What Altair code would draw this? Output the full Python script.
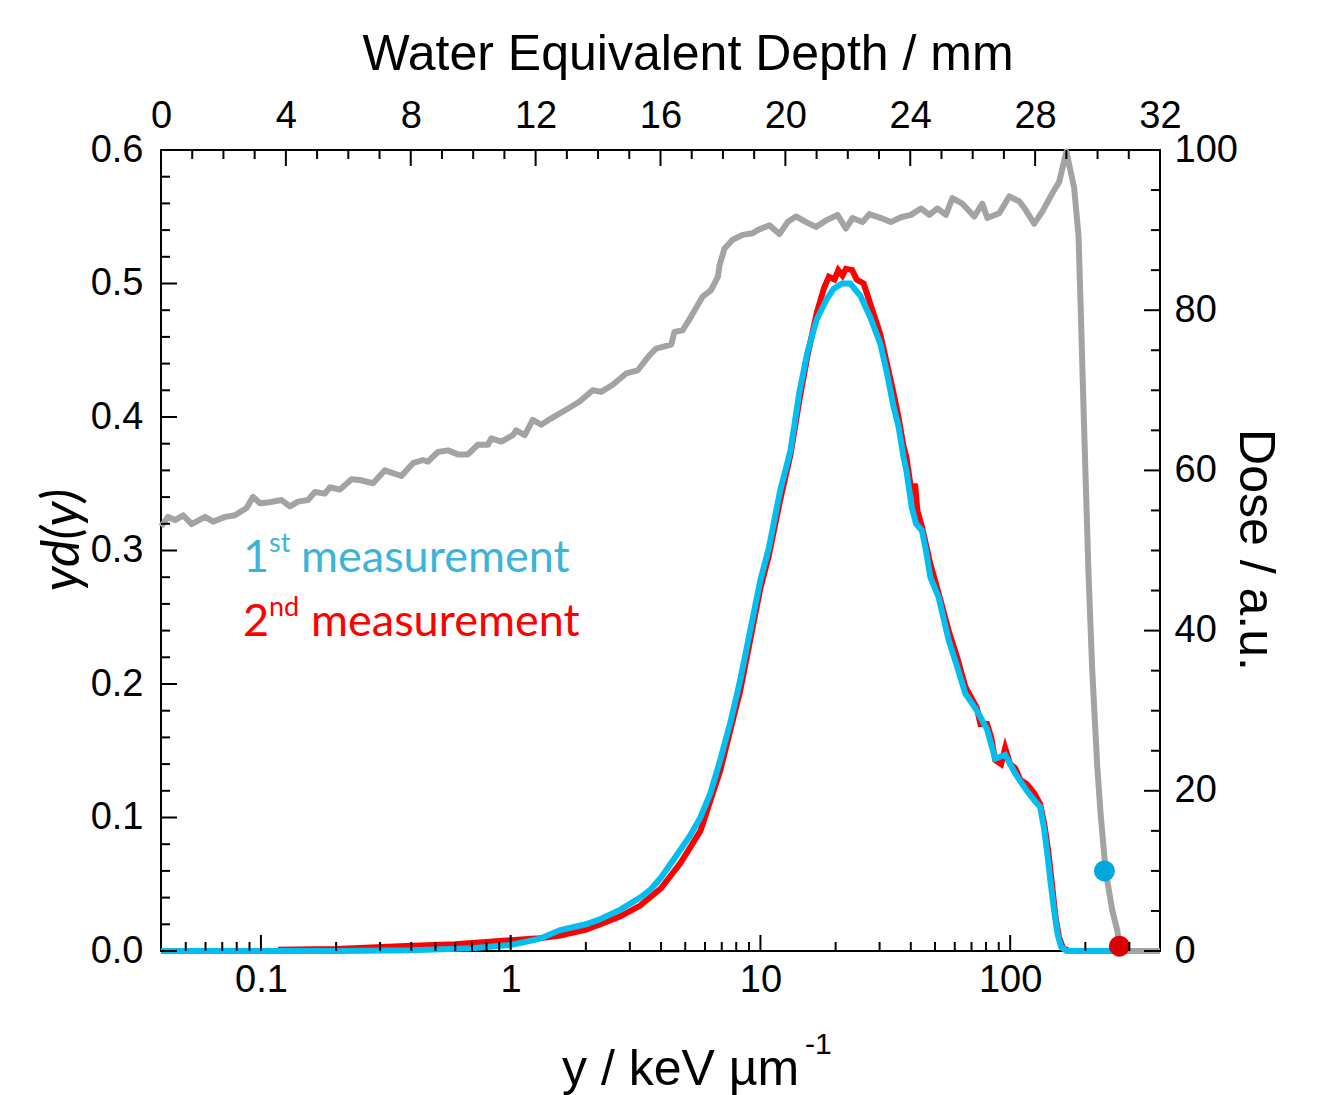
import altair as alt
import pandas as pd

# ---------------- data ----------------
# 1st measurement (blue): lineal energy y [keV/um] and y*d(y)
blue_y = [0.0398, 0.2, 0.4, 0.7, 1.0, 1.3, 1.58, 2.0, 2.29, 2.75, 3.3, 3.63, 4.0, 4.79, 5.25, 5.75,
          6.3, 6.9, 7.6, 8.3, 9.1, 10.0, 10.8, 12.0, 13.2, 14.3, 15.4, 16.8, 18.4, 19.6, 21.2, 22.9,
          25.1, 27.5, 30.2, 32.1, 34.1, 35.7, 37.4, 38.4, 40.4, 42.0, 44.3, 46.0, 47.9, 51.7, 56.7,
          61.3, 66.1, 73.6, 80.8, 87.1, 95.5, 104.7, 116.6, 126.0, 131.8, 136.6, 141.0, 145.0,
          150.0, 155.0, 160.0, 168.0, 398.0]
blue_yd = [0.0, 0.0, 0.0005, 0.002, 0.0045, 0.009, 0.0157, 0.020, 0.024, 0.031, 0.040, 0.046, 0.055,
           0.076, 0.087, 0.100, 0.118, 0.143, 0.172, 0.203, 0.240, 0.278, 0.3016, 0.345, 0.375, 0.418,
           0.448, 0.473, 0.488, 0.496, 0.500, 0.500, 0.491, 0.475, 0.455, 0.433, 0.408, 0.393, 0.370,
           0.360, 0.332, 0.320, 0.315, 0.300, 0.280, 0.265, 0.233, 0.213, 0.193, 0.180, 0.166, 0.144,
           0.147, 0.133, 0.120, 0.112, 0.108, 0.092, 0.072, 0.052, 0.030, 0.012, 0.003, 0.0, 0.0]

# 2nd measurement (red)
red_y = [0.117, 0.2, 0.38, 0.6, 1.0, 1.3, 1.58, 2.0, 2.29, 2.75, 3.3, 4.0, 4.79, 5.75, 6.9, 8.3, 10.0,
         10.8, 12.0, 13.2, 14.3, 15.4, 16.8, 18.0, 18.8, 19.8, 20.5, 21.3, 22.0, 23.3, 24.3, 25.9,
         27.5, 30.2, 32.1, 34.1, 35.7, 37.4, 38.4, 40.4, 41.6, 42.5, 44.3, 47.9, 51.7, 56.7, 61.3,
         66.1, 73.6, 76.0, 80.8, 84.0, 87.1, 92.0, 95.5, 100.0, 104.7, 110.0, 116.6, 125.0, 131.8,
         137.0, 142.0, 147.0, 152.0, 157.0, 163.0, 172.0, 398.0]
red_yd = [0.001, 0.0015, 0.0037, 0.005, 0.008, 0.0095, 0.0115, 0.016, 0.020, 0.026, 0.034, 0.047,
          0.066, 0.090, 0.135, 0.195, 0.272, 0.296, 0.338, 0.372, 0.412, 0.445, 0.478, 0.497, 0.505,
          0.503, 0.510, 0.506, 0.511, 0.510, 0.503, 0.500, 0.485, 0.462, 0.440, 0.418, 0.400, 0.378,
          0.370, 0.342, 0.350, 0.330, 0.318, 0.290, 0.268, 0.240, 0.220, 0.198, 0.182, 0.170, 0.170,
          0.160, 0.143, 0.140, 0.152, 0.140, 0.137, 0.128, 0.125, 0.118, 0.110, 0.095, 0.075, 0.050,
          0.025, 0.010, 0.002, 0.0, 0.0]

# depth-dose curve (grey): water equivalent depth [mm] and dose [a.u.]
depth_mm = [0.0, 0.23, 0.45, 0.71, 0.98, 1.41, 1.67, 2.05, 2.37, 2.74, 2.95, 3.17, 3.43, 3.86, 4.13,
            4.39, 4.71, 4.93, 5.25, 5.41, 5.73, 6.10, 6.37, 6.79, 7.17, 7.70, 8.07, 8.39, 8.55, 8.87,
            9.19, 9.51, 9.83, 10.15, 10.47, 10.58, 10.90, 11.27, 11.38, 11.65, 11.91, 12.18, 12.50,
            13.03, 13.41, 13.83, 14.10, 14.47, 14.90, 15.27, 15.65, 15.86, 16.34, 16.45, 16.71, 16.98,
            17.35, 17.62, 17.84, 17.89, 18.05, 18.31, 18.63, 18.95, 19.11, 19.49, 19.81, 20.07, 20.34,
            20.66, 20.98, 21.30, 21.67, 21.94, 22.15, 22.47, 22.69, 23.06, 23.38, 23.70, 24.02, 24.34,
            24.61, 24.87, 25.14, 25.35, 25.67, 26.05, 26.31, 26.47, 26.85, 27.17, 27.49, 27.70, 27.97,
            28.23, 28.55, 28.77, 29.00, 29.25, 29.39, 29.46, 29.57, 29.71, 29.83, 29.99, 30.10, 30.26,
            30.47, 30.63, 30.70, 30.85, 32.0]
dose = [53.0, 54.2, 53.8, 54.4, 53.3, 54.2, 53.6, 54.2, 54.4, 55.3, 56.7, 55.9, 56.0, 56.3, 55.5,
        56.1, 56.3, 57.3, 57.1, 57.9, 57.6, 58.9, 58.8, 58.4, 60.0, 59.3, 60.9, 61.3, 61.1, 62.3,
        62.5, 62.0, 62.0, 63.2, 63.2, 64.0, 63.6, 64.4, 65.0, 64.4, 66.3, 65.7, 66.5,
        67.7, 68.6, 70.0, 69.8, 70.7, 72.1, 72.5, 74.4, 75.2, 75.7, 77.3, 77.5, 79.2,
        81.7, 82.5, 84.2, 85.6, 87.7, 88.8, 89.4, 89.6, 90.0, 90.6, 89.5, 91.0, 91.7,
        91.0, 90.4, 91.2, 91.9, 90.2, 91.5, 91.0, 92.0, 91.5, 91.0, 91.6, 91.9, 92.7,
        91.9, 92.7, 91.9, 94.0, 93.3, 91.7, 93.3, 91.5, 92.1, 94.2, 93.6, 92.5, 90.8,
        92.3, 94.6, 96.0, 99.8, 95.3, 89.3, 80.2, 65.2, 47.1, 35.0, 23.0, 17.0, 10.0,
        5.1, 2.6, 0.7, 0.0, 0.0]

# measurement positions on the depth-dose curve
marker_depth = [30.22, 30.70]
marker_dose = [10.0, 0.6]
marker_name = ["1st", "2nd"]

# axis ticks / labels
x_log_domain = [0.0398, 398.0]
x_major = [0.1, 1, 10, 100]
x_minor = [0.05, 0.06, 0.07, 0.08, 0.09, 0.2, 0.3, 0.4, 0.5, 0.6, 0.7, 0.8, 0.9,
           2, 3, 4, 5, 6, 7, 8, 9, 20, 30, 40, 50, 60, 70, 80, 90, 200, 300]
yl_major = [0.0, 0.1, 0.2, 0.3, 0.4, 0.5, 0.6]
yl_minor = [0.02, 0.04, 0.06, 0.08, 0.12, 0.14, 0.16, 0.18, 0.22, 0.24, 0.26, 0.28,
            0.32, 0.34, 0.36, 0.38, 0.42, 0.44, 0.46, 0.48, 0.52, 0.54, 0.56, 0.58]
top_major = [0, 4, 8, 12, 16, 20, 24, 28, 32]
top_minor = [v for v in range(1, 32) if v % 4 != 0]
yr_major = [0, 20, 40, 60, 80, 100]
yr_minor = [v for v in range(5, 100, 5) if v % 20 != 0]

# ---------------- layout ----------------
W, H = 999, 801
MAJ, MIN = 16, 9
AX_FONT = "Liberation Sans"
LEG_FONT = "Lato"
LBL = 38

xlog = alt.Scale(type="log", domain=x_log_domain, nice=False)
yl = alt.Scale(domain=[0, 0.6], nice=False, zero=False)
xt = alt.Scale(domain=[0, 32], nice=False, zero=False)
yr = alt.Scale(domain=[0, 100], nice=False, zero=False)

spec = pd.concat([
    pd.DataFrame({"y": blue_y, "yd": blue_yd, "m": "1st"}),
    pd.DataFrame({"y": red_y, "yd": red_yd, "m": "2nd"}),
])
dd = pd.DataFrame({"depth": depth_mm, "dose": dose})
mk = pd.DataFrame({"depth": marker_depth, "dose": marker_dose, "m": marker_name})

axis_common = dict(ticks=False, domain=False, grid=False, labelFontSize=LBL, labelFont=AX_FONT,
                   labelColor="black", title=None, labelFlush=False)

red_line = alt.Chart(spec[spec.m == "2nd"]).mark_line(color="#FF0000", strokeWidth=6).encode(
    x=alt.X("y:Q", scale=xlog, axis=alt.Axis(orient="bottom", values=x_major, format="~g",
                                             labelPadding=10, **axis_common)),
    y=alt.Y("yd:Q", scale=yl, axis=alt.Axis(orient="left", values=yl_major, format=".1f",
                                            labelPadding=18, **axis_common)),
)
blue_line = alt.Chart(spec[spec.m == "1st"]).mark_line(color="#00BFF0", strokeWidth=6).encode(
    x=alt.X("y:Q", scale=xlog, axis=None),
    y=alt.Y("yd:Q", scale=yl, axis=None),
)
grey_line = alt.Chart(dd).mark_line(color="#A3A3A3", strokeWidth=6, strokeJoin="round").encode(
    x=alt.X("depth:Q", scale=xt, axis=alt.Axis(orient="top", values=top_major, format="d",
                                               labelPadding=15, **axis_common)),
    y=alt.Y("dose:Q", scale=yr, axis=alt.Axis(orient="right", values=yr_major, format="d",
                                              labelPadding=14, **axis_common)),
)
dots = alt.Chart(mk).mark_circle(size=440, opacity=1).encode(
    x=alt.X("depth:Q", scale=xt, axis=None),
    y=alt.Y("dose:Q", scale=yr, axis=None),
    color=alt.Color("m:N", scale=alt.Scale(domain=["1st", "2nd"], range=["#00A8E2", "#D90000"]),
                    legend=None),
)


def ticks_x(vals, scale, length, top):
    d = pd.DataFrame({"v": vals})
    if top:
        ys = dict(y=alt.value(0), y2=alt.value(length))
    else:
        ys = dict(y=alt.value(H), y2=alt.value(H - length))
    return alt.Chart(d).mark_rule(color="black", strokeWidth=2).encode(
        x=alt.X("v:Q", scale=scale, axis=None), **ys)


def ticks_y(vals, scale, length, right):
    d = pd.DataFrame({"v": vals})
    if right:
        xs = dict(x=alt.value(W), x2=alt.value(W - length))
    else:
        xs = dict(x=alt.value(0), x2=alt.value(length))
    return alt.Chart(d).mark_rule(color="black", strokeWidth=2).encode(
        y=alt.Y("v:Q", scale=scale, axis=None), **xs)


one = pd.DataFrame({"a": [0]})


def txt(s, x, y, size, color="black", font=AX_FONT, align="left", baseline="alphabetic",
        angle=None, style="normal"):
    kw = dict(text=s, fontSize=size, font=font, color=color, align=align, baseline=baseline,
              fontStyle=style)
    if angle is not None:
        kw["angle"] = angle
    return alt.Chart(one).mark_text(**kw).encode(x=alt.value(x), y=alt.value(y))


BLUE_TXT = "#3CB4DA"
RED_TXT = "#FF0000"

layers = [
    red_line, blue_line, grey_line, dots,
    ticks_x(x_major, xlog, MAJ, False), ticks_x(x_minor, xlog, MIN, False),
    ticks_x(top_major, xt, MAJ, True), ticks_x(top_minor, xt, MIN, True),
    ticks_y(yl_major, yl, MAJ, False), ticks_y(yl_minor, yl, MIN, False),
    ticks_y(yr_major, yr, MAJ, True), ticks_y(yr_minor, yr, MIN, True),
    # axis titles
    txt("Water Equivalent Depth / mm", 527, -95, 50, align="center", baseline="middle"),
    txt("y / keV µm", 401, 935, 50),
    txt("-1", 644, 904, 30),
    txt("yd(y)", -98, 390, 52, font=LEG_FONT, align="center", baseline="middle", angle=270,
        style="italic"),
    txt("Dose / a.u.", 1094, 400, 50, align="center", baseline="middle", angle=90),
    # legend
    txt("1", 82, 422, 45, color=BLUE_TXT, font=LEG_FONT),
    txt("st", 108, 402, 27, color=BLUE_TXT, font=LEG_FONT),
    txt("measurement", 140, 422, 45, color=BLUE_TXT, font=LEG_FONT),
    txt("2", 82, 486, 45, color=RED_TXT, font=LEG_FONT),
    txt("nd", 108, 466, 27, color=RED_TXT, font=LEG_FONT),
    txt("measurement", 150, 486, 45, color=RED_TXT, font=LEG_FONT),
]

chart = alt.layer(*layers).resolve_scale(x="independent", y="independent").properties(
    width=W, height=H,
    padding={"left": 153, "top": 142, "right": 150, "bottom": 146},
    autosize=alt.AutoSizeParams(type="none"),
).configure_view(stroke="black", strokeWidth=2)

chart.save("out.html", embed_options={"renderer": "svg", "actions": False})
